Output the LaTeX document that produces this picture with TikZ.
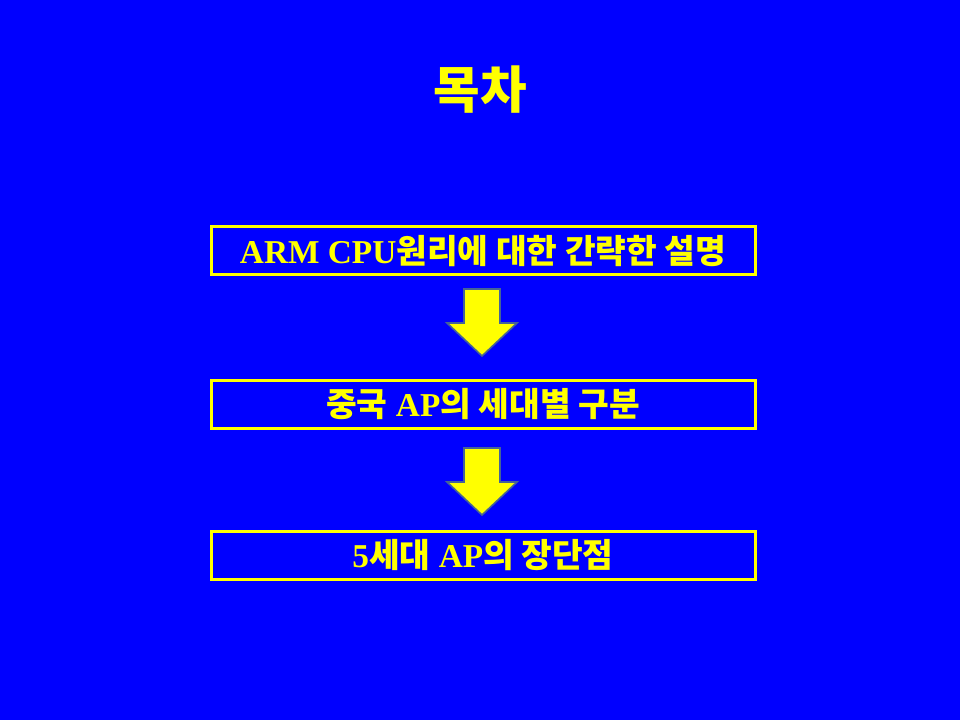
\documentclass[tikz,border=0pt]{standalone}
\usepackage{fontspec}
\setmainfont{Liberation Serif}
\newfontfamily\kr{Noto Sans CJK KR}
\usepackage{tikz}
\usetikzlibrary{positioning}
\definecolor{slideblue}{RGB}{0,0,255}
\definecolor{slideyellow}{RGB}{255,255,0}
\definecolor{arrowedge}{RGB}{70,100,150}
\tikzset{
  ybox/.style={rectangle,draw=slideyellow,line width=2.25pt,minimum width=408pt,minimum height=36pt,inner sep=0pt,text=slideyellow,font=\fontsize{25}{28}\selectfont\bfseries},
  darr/.style={draw=arrowedge,fill=slideyellow,line width=1.2pt,line join=miter}
}
\begin{document}
\begin{tikzpicture}[x=0.75pt,y=-0.75pt]
  \fill[slideblue] (0,0) rectangle (960,720);
  \useasboundingbox (0,0) rectangle (960,720);

  \node[text=slideyellow,font=\kr\fontsize{38}{42}\selectfont\bfseries] (title) at (480,90) {목차};

  \node[ybox] (arm) at (483,251) {ARM CPU{\kr 원리에 대한 간략한 설명}};
  \node[ybox] (gen) at (483,404) {{\kr 중국} AP{\kr 의 세대별 구분}};
  \node[ybox] (pro) at (483,555) {5{\kr 세대} AP{\kr 의 장단점}};

  % block arrows, top centre of each
  \coordinate (a1) at (482,289);
  \coordinate (a2) at (482,448);
  \foreach \a in {a1,a2}
    \draw[darr] (\a) ++(-18,0) -- ++(36,0) -- ++(0,34) -- ++(17,0) -- ++(-35,33) -- ++(-35,-33) -- ++(17,0) -- cycle;
\end{tikzpicture}
\end{document}
